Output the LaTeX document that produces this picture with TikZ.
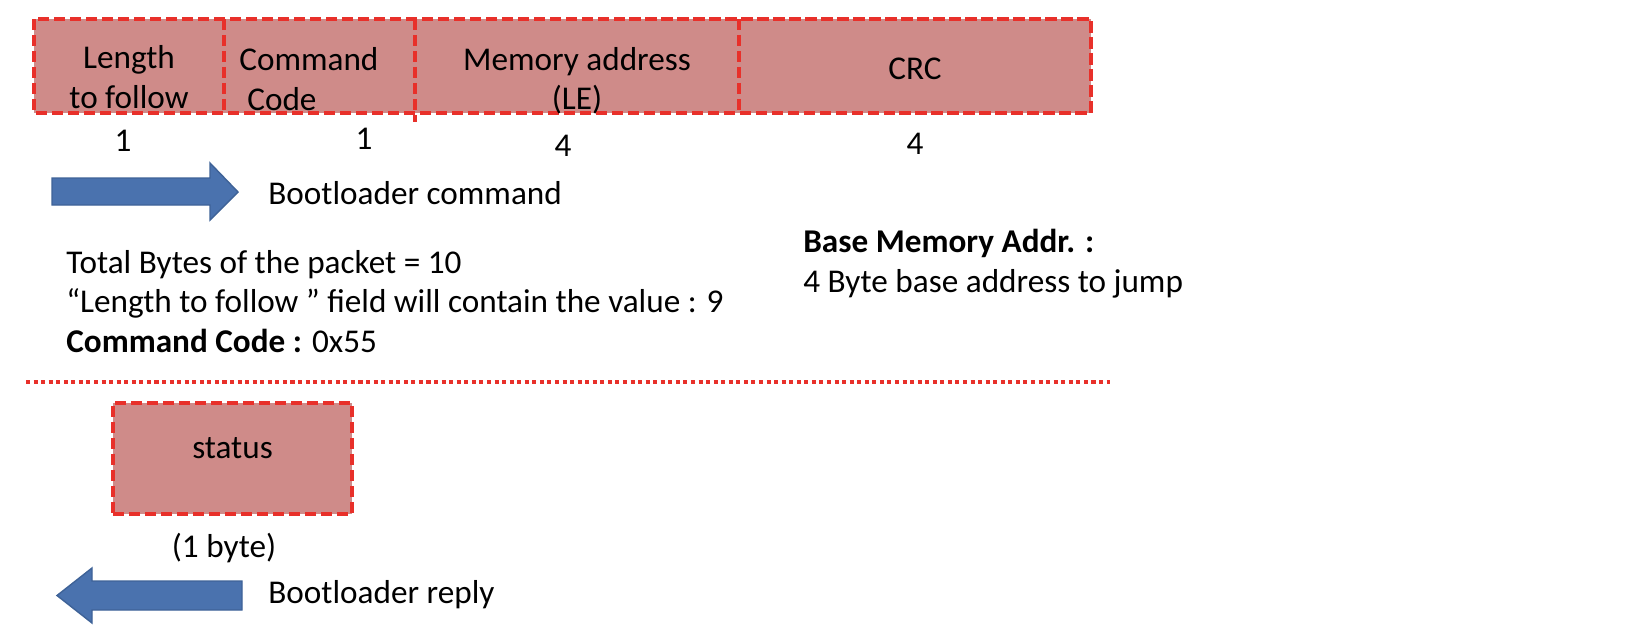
\documentclass[tikz,border=0pt]{standalone}
\usepackage{fontspec}
\setmainfont{Carlito}
\definecolor{fieldpink}{HTML}{CF8B89}
\definecolor{dashred}{HTML}{E8302A}
\definecolor{arrowblue}{HTML}{4A72AE}
\definecolor{arrowedge}{HTML}{3E6297}
\usetikzlibrary{positioning}

\begin{document}
\begin{tikzpicture}[
  font=\fontsize{18.9}{22.4}\selectfont,
  field/.style={fill=fieldpink,minimum height=1.88cm,inner sep=0pt,outer sep=0pt},
  border/.style={draw=dashred,line width=2.4pt,dash pattern=on 6.5pt off 2.6pt},
  sepline/.style={draw=dashred,line width=2.3pt,dash pattern=on 2.3pt off 2pt},
  txt/.style={inner sep=0pt,align=center},
  blockarr/.style={fill=arrowblue,draw=arrowedge,line width=0.8pt}
]
  \useasboundingbox (0,0) rectangle (32.68,-12.84);
  % Command packet
  \node[field,minimum width=3.80cm,anchor=north west] (len) at (0.68,-0.38) {};
  \node[field,minimum width=3.82cm,right=0pt of len] (cmd) {};
  \node[field,minimum width=6.48cm,right=0pt of cmd] (addr) {};
  \node[field,minimum width=7.04cm,right=0pt of addr] (crc) {};
  \draw[border] (len.north west) rectangle (crc.south east);
  \draw[border] (len.north east) -- (len.south east);
  \draw[border] (cmd.north east) -- ([yshift=-0.18cm]cmd.south east);
  \draw[border] (addr.north east) -- (addr.south east);
  % Field texts
  \node[txt] (lentxt)  at ([yshift=-0.22cm]len.center)  {Length\\to follow};
  \node[txt,align=left,anchor=west] (cmdtxt) at ([yshift=-0.26cm]cmd.west) {\hspace{0.30cm}Command\\\hspace{0.46cm}Code};
  \node[txt] (addrtxt) at ([yshift=-0.30cm]addr.center) {Memory address\\(LE)};
  \node[txt] (crctxt)  at ([yshift=-0.06cm]crc.center)  {CRC};
  % Field sizes
  \node[txt] (lensz)  at (2.46,-2.82)  {1};
  \node[txt] (cmdsz)  at (7.28,-2.78)  {1};
  \node[txt] (addrsz) at (11.26,-2.92) {4};
  \node[txt] (crcsz)  at (18.30,-2.88) {4};
  % Command direction
  \draw[blockarr] (1.04,-3.56) -- (4.20,-3.56) -- (4.20,-3.26) -- (4.76,-3.84)
    -- (4.20,-4.40) -- (4.20,-4.10) -- (1.04,-4.10) -- cycle;
  \node[txt,anchor=west] (cmdlbl) at (5.36,-3.86) {Bootloader command};
  % Notes
  \node[txt,align=left,anchor=north west] (notes) at (1.32,-5.00)
    {Total Bytes of the packet = 10\\
     “Length to follow ” field will contain the value : 9\\
     \textbf{Command Code :} 0x55};
  \node[txt,align=left,anchor=north west] (basenote) at (16.06,-4.58)
    {\textbf{Base Memory Addr. :}\\
     4 Byte base address to jump};
  % Separator
  \coordinate (sepL) at (0.52,-7.64);
  \coordinate (sepR) at (22.20,-7.64);
  \draw[sepline] (sepL) -- (sepR);
  % Reply packet
  \node[field,minimum width=4.78cm,minimum height=2.22cm,anchor=north west,border] (status) at (2.26,-8.06) {};
  \node[txt] (statustxt) at ([yshift=0.20cm]status.center) {status};
  \node[txt] (statussz) at (4.48,-10.96) {(1 byte)};
  % Reply direction
  \draw[blockarr] (4.84,-11.62) -- (1.84,-11.62) -- (1.84,-11.36) -- (1.14,-11.91)
    -- (1.84,-12.46) -- (1.84,-12.20) -- (4.84,-12.20) -- cycle;
  \node[txt,anchor=west] (replylbl) at (5.36,-11.90) {Bootloader reply};
\end{tikzpicture}
\end{document}
